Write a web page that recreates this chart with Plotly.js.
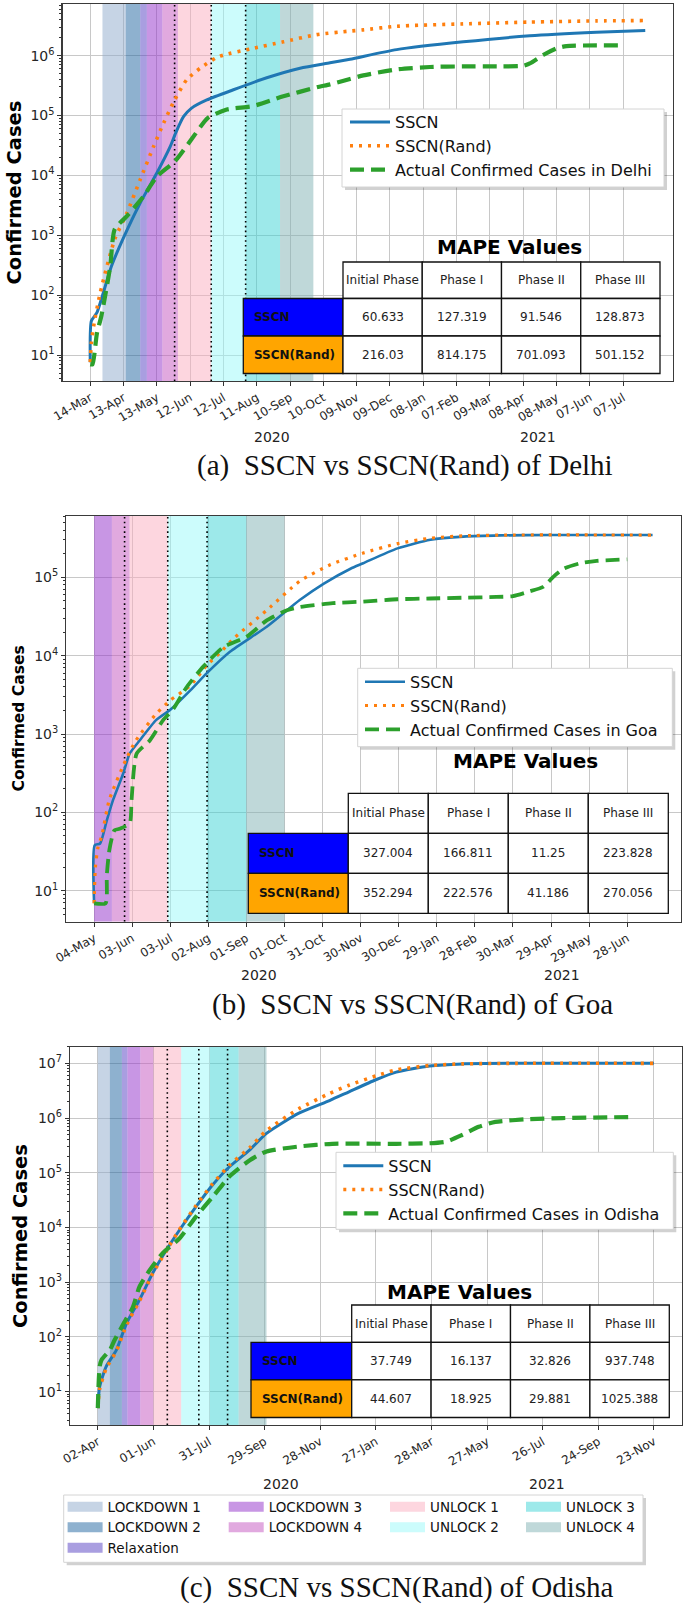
<!DOCTYPE html>
<html><head><meta charset="utf-8">
<script src="https://cdn.plot.ly/plotly-3.0.1.min.js"></script>
<style>html,body{margin:0;padding:0;background:#fff;}#chart{width:685px;height:1606px;}</style>
</head><body><div id="chart"></div>
<script>
// ---------------- DATA ----------------
const delhiStart = '2020-03-14';
const delhiSpanDays = 500;
const delhiSSCNDays = [0,1,6,19,30,45,60,72,77,84,91,105,129,159,189,216,234,276,336,396,456,500];
const delhiSSCN = [7.6,37,51,302,912,3467,10965,30200,51286,95500,131800,182000,269000,426600,616600,758600,871000,1260000,1700000,2140000,2450000,2630000];
const delhiRandDays = [0,1,3,9,22,33,45,57,66,76,87,99,114,120,144,174,204,234,246,276,336,396,456,500];
const delhiRand = [7.6,16,30,110,851,2344,8511,30200,74130,182000,398100,616600,933000,1023000,1290000,1700000,2240000,2570000,2690000,3090000,3390000,3630000,3800000,3850000];
const delhiActualDays = [0,2,6,10,18,22,33,48,60,77,93,106,123,147,174,204,216,234,246,276,306,336,369,390,396,408,420,429,478];
const delhiActual = [7,7,23,45,302,1259,2089,4467,9550,17780,44670,91200,125900,144500,208900,295100,331100,407400,467700,588800,645700,660700,660700,676100,741300,1023000,1318000,1445000,1479000];
const delhiTickLabels = ['14-Mar','13-Apr','13-May','12-Jun','12-Jul','11-Aug','10-Sep','10-Oct','09-Nov','09-Dec','08-Jan','07-Feb','09-Mar','08-Apr','08-May','07-Jun','07-Jul'];
const delhiTickStep = 30;
const delhiPhaseLines = ['2020-05-29','2020-07-01','2020-08-01'];
const delhiMapeSSCN = [60.633, 127.319, 91.546, 128.873];
const delhiMapeRand = [216.03, 814.175, 701.093, 501.152];

const goaStart = '2020-05-04';
const goaSpanDays = 440;
const goaSSCNDays = [0,0.5,4.7,10,15,23,28,36,49,60,76,89,107,136,162,181,202,212,239,265,291,320,360,440];
const goaSSCN = [6.9,38,40,79,145,316,562,832,1514,2042,3631,6026,11220,23440,51290,83180,128800,151400,234400,302000,331100,342800,346700,346700];
const goaRandDays = [0,1,3,6,12,25,33,49,60,76,89,100,110,136,162,186,212,239,265,291,330,440];
const goaRand = [6.9,20,35.5,50,145,468,832,1820,2692,4169,7586,11220,16600,38020,89130,144500,204200,269200,316200,338800,346700,346700];
const goaActualDays = [0,9,10,12,16,20,28,29.5,33.5,44,54.5,62,73,86,102,120,136,152,162,188,212,239,265,291,317,330,343,354,362,370,383,396,420];
const goaActual = [6.9,6.9,15.8,33.1,58.9,61.7,72.4,144.5,562,832,1514,2042,3981,7244,12880,17380,28180,38020,41690,46770,48980,52480,53700,54950,56230,57540,66070,75860,102300,128800,151400,162200,169800];
const goaTickLabels = ['04-May','03-Jun','03-Jul','02-Aug','01-Sep','01-Oct','31-Oct','30-Nov','30-Dec','29-Jan','28-Feb','30-Mar','29-Apr','29-May','28-Jun'];
const goaTickStep = 30;
const goaPhaseLines = ['2020-05-28','2020-07-01','2020-08-01'];
const goaMapeSSCN = [327.004, 166.811, 11.25, 223.828];
const goaMapeRand = [352.294, 222.576, 41.186, 270.056];

const odishaStart = '2020-04-02';
const odishaSpanDays = 600;
const odishaSSCNDays = [0,2,9,20,31,45,59,74,88,106,124,142,164,182,217,250,271,300,322,358,393,450,600];
const odishaSSCN = [5,12.3,28.8,57.5,178,479,1445,3890,8913,23990,60260,128800,263000,524800,1230000,2090000,3020000,5010000,6920000,8910000,9770000,10000000,10000000];
const odishaRandDays = [0,2,9,20,31,45,59,74,88,106,124,142,164,182,217,250,271,300,322,358,393,450,600];
const odishaRand = [5,11.2,26.3,55,166,457,1413,3802,9120,25120,63100,138000,288400,588800,1479000,2818000,3981000,5888000,7586000,9120000,9770000,10000000,10000000];
const odishaActualDays = [0,2,4,13,18,27,38,45,56,70,88,106,124,142,164,182,217,253,322,358,376,393,411,429,465,501,577];
const odishaActual = [5,28.8,38,57.5,87,166,355,832,1660,3388,6310,15850,36310,85110,169800,245500,302000,338800,338800,346700,371500,489800,691800,851100,955000,1000000,1047000];
const odishaTickLabels = ['02-Apr','01-Jun','31-Jul','29-Sep','28-Nov','27-Jan','28-Mar','27-May','26-Jul','24-Sep','23-Nov'];
const odishaTickStep = 60;
const odishaPhaseLines = ['2020-06-16','2020-07-20','2020-08-20'];
const odishaMapeSSCN = [37.749, 16.137, 32.826, 937.748];
const odishaMapeRand = [44.607, 18.925, 29.881, 1025.388];

const phaseNames = ['LOCKDOWN 1','LOCKDOWN 2','Relaxation','LOCKDOWN 3','LOCKDOWN 4','UNLOCK 1','UNLOCK 2','UNLOCK 3','UNLOCK 4'];
const phaseStarts = ['2020-03-25','2020-04-15','2020-04-28','2020-05-04','2020-05-18','2020-06-01','2020-07-01','2020-08-01','2020-09-01'];
const phaseEnds = ['2020-04-15','2020-04-28','2020-05-04','2020-05-18','2020-06-01','2020-07-01','2020-08-01','2020-09-01','2020-10-01'];
const phaseColors = ['rgba(141,169,203,0.5)','rgba(29,99,159,0.5)','rgba(83,61,193,0.5)','rgba(145,45,201,0.5)','rgba(195,83,191,0.5)','rgba(251,173,191,0.5)','rgba(153,249,249,0.5)','rgba(59,211,213,0.5)','rgba(127,177,179,0.5)'];
const phaseLegendColumn = ['legend4','legend4','legend4','legend5','legend5','legend6','legend6','legend7','legend7'];

const tableHeader = ['Initial Phase','Phase I','Phase II','Phase III'];
const tableRowLabels = ['SSCN','SSCN(Rand)'];
const tableRowColors = ['#0000ff','#ffa500'];
const yTickVals = [10,100,1000,10000,100000,1000000,10000000];
const yTickText = ['10<sup>1</sup>','10<sup>2</sup>','10<sup>3</sup>','10<sup>4</sup>','10<sup>5</sup>','10<sup>6</sup>','10<sup>7</sup>'];

// ---------------- LAYOUT GEOMETRY (pixels) ----------------
const W = 685, H = 1606;
const px = v => v / W;
const py = v => 1 - v / H;
const DAY = 86400000;
function addDays(s, d) {
  const t = Date.parse(s + 'T00:00:00Z') + d * DAY;
  return new Date(t).toISOString().slice(0, 19).replace('T', ' ');
}
const FONT = 'DejaVu Sans';

const panels = [
  {key:'', start:delhiStart, span:delhiSpanDays, box:[62.5,4,673,381], yr:[0.567,6.862],
   sscnD:delhiSSCNDays, sscn:delhiSSCN, randD:delhiRandDays, rand:delhiRand, actD:delhiActualDays, act:delhiActual,
   ticks:delhiTickLabels, step:delhiTickStep, lines:delhiPhaseLines, region:'Delhi', legend:'legend', lw:3,
   mS:delhiMapeSSCN, mR:delhiMapeRand},
  {key:'2', start:goaStart, span:goaSpanDays, box:[66.2,516,680.5,921.7], yr:[0.604,5.783],
   sscnD:goaSSCNDays, sscn:goaSSCN, randD:goaRandDays, rand:goaRand, actD:goaActualDays, act:goaActual,
   ticks:goaTickLabels, step:goaTickStep, lines:goaPhaseLines, region:'Goa', legend:'legend2', lw:2.6,
   mS:goaMapeSSCN, mR:goaMapeRand},
  {key:'3', start:odishaStart, span:odishaSpanDays, box:[70,1046.7,681.7,1425], yr:[0.391,7.304],
   sscnD:odishaSSCNDays, sscn:odishaSSCN, randD:odishaRandDays, rand:odishaRand, actD:odishaActualDays, act:odishaActual,
   ticks:odishaTickLabels, step:odishaTickStep, lines:odishaPhaseLines, region:'Odisha', legend:'legend3', lw:3,
   mS:odishaMapeSSCN, mR:odishaMapeRand}
];

const traces = [];
const layout = {
  width: W, height: H, autosize: false,
  margin: {l:0, r:0, t:0, b:0, pad:0},
  paper_bgcolor: '#fff', plot_bgcolor: '#fff',
  showlegend: true,
  font: {family: FONT, color: '#222'},
  annotations: [], shapes: []
};

panels.forEach((p, i) => {
  const xa = 'x' + p.key, ya = 'y' + p.key;
  const ylo = Math.pow(10, p.yr[0]), yhi = Math.pow(10, p.yr[1]);
  // phase bands
  phaseNames.forEach((nm, k) => {
    const s = phaseStarts[k] > p.start ? phaseStarts[k] : p.start;
    const e = phaseEnds[k];
    if (e <= s) return;
    traces.push({type:'scatter', mode:'lines', x:[s,e,e,s,s], y:[ylo,ylo,yhi,yhi,ylo],
      fill:'toself', fillcolor:phaseColors[k], line:{width:0, color:phaseColors[k]},
      xaxis:xa, yaxis:ya, name:nm, hoverinfo:'skip', showlegend:false});
  });
  // phase dotted lines
  p.lines.forEach(d => {
    traces.push({type:'scatter', mode:'lines', x:[d,d], y:[ylo,yhi], xaxis:xa, yaxis:ya,
      line:{color:'#000', width:1.6, dash:'1.6px,3.2px'}, showlegend:false, hoverinfo:'skip'});
  });
  const toDates = arr => arr.map(d => addDays(p.start, d));
  traces.push({type:'scatter', mode:'lines', name:'SSCN', x:toDates(p.sscnD), y:p.sscn,
    xaxis:xa, yaxis:ya, legend:p.legend, line:{color:'#1f77b4', width:p.lw, shape:'spline', smoothing:0.6}});
  traces.push({type:'scatter', mode:'lines', name:'SSCN(Rand)', x:toDates(p.randD), y:p.rand,
    xaxis:xa, yaxis:ya, legend:p.legend, line:{color:'#ff7f0e', width:p.lw+0.6, dash:'3px,6px', shape:'spline', smoothing:0.6}});
  traces.push({type:'scatter', mode:'lines', name:'Actual Confirmed Cases in ' + p.region, x:toDates(p.actD), y:p.act,
    xaxis:xa, yaxis:ya, legend:p.legend, line:{color:'#2ca02c', width:p.lw+1.2, dash:'14px,7px', shape:'spline', smoothing:0.6}});

  const b = p.box;
  const minor = [];
  for (let e = 0; e < 8; e++) for (let m = 2; m < 10; m++) minor.push(m * Math.pow(10, e));
  layout['xaxis' + p.key] = {
    type:'date', domain:[px(b[0]), px(b[2])], anchor:ya,
    range:[addDays(p.start, -0.05 * p.span), addDays(p.start, 1.05 * p.span)],
    tickmode:'array', tickvals:p.ticks.map((_, j) => addDays(p.start, j * p.step)), ticktext:p.ticks,
    tickangle:-30, tickfont:{family:FONT, size:12, color:'#262626'},
    ticks:'outside', ticklen:4, tickcolor:'#333', tickwidth:1,
    showgrid:true, gridcolor:'#c8c8c8', gridwidth:1,
    showline:true, mirror:true, linecolor:'#3a3a3a', linewidth:1.2, zeroline:false, fixedrange:true
  };
  layout['yaxis' + p.key] = {
    type:'log', domain:[py(b[3]), py(b[1])], anchor:xa, range:p.yr,
    tickmode:'array', tickvals:yTickVals, ticktext:yTickText,
    tickfont:{family:FONT, size:14, color:'#262626'},
    ticks:'outside', ticklen:4, tickcolor:'#333', tickwidth:1,
    minor:{tickmode:'array', tickvals:minor, ticks:'outside', ticklen:2.2, tickcolor:'#333', showgrid:false},
    showgrid:true, gridcolor:'#c8c8c8', gridwidth:1,
    showline:true, mirror:true, linecolor:'#3a3a3a', linewidth:1.2, zeroline:false, fixedrange:true
  };
});

// legend-only entries for the phase patches (in the bottom legend)
phaseNames.forEach((nm, k) => {
  traces.push({type:'scatter', mode:'lines', name:nm, x:[odishaStart], y:[1], xaxis:'x3', yaxis:'y3',
    line:{color:phaseColors[k], width:10}, legend:phaseLegendColumn[k], hoverinfo:'skip', showlegend:true});
});

// ---------------- LEGEND BOXES ----------------
const legendBoxes = [[342,109,664,187],[357.7,668.3,672.3,746.7],[336,1152.3,673.3,1229.3],[63.7,1495,643,1562.3]];
legendBoxes.forEach(bx => {
  layout.shapes.push({type:'rect', xref:'paper', yref:'paper', layer:'above',
    x0:px(bx[0]+3), x1:px(bx[2]+3), y0:py(bx[3]+3), y1:py(bx[1]+3),
    fillcolor:'rgba(0,0,0,0.18)', line:{width:0}});
  layout.shapes.push({type:'rect', xref:'paper', yref:'paper', layer:'above',
    x0:px(bx[0]), x1:px(bx[2]), y0:py(bx[3]), y1:py(bx[1]),
    fillcolor:'#fff', line:{width:1, color:'#d4d4d4'}});
});

// ---------------- TABLES (cells as shapes, text as annotations) ----------------
const tableGeom = [
  {lab:243.3, x0:343, x1:660, top:262, hh:36.5, ch:37.5, title:[509,247]},
  {lab:248.3, x0:348.3, x1:668.3, top:793.3, hh:40, ch:40, title:[525,761]},
  {lab:251, x0:351.7, x1:669.3, top:1305, hh:37.3, ch:37.6, title:[460,1291.7]}
];
function cellRect(x0, y0, x1, y1, fill) {
  layout.shapes.push({type:'rect', xref:'paper', yref:'paper', layer:'above',
    x0:px(x0), x1:px(x1), y0:py(y1), y1:py(y0), fillcolor:fill, line:{color:'#111', width:1.3}});
}
function cellText(x, y, t, anchor, size, color) {
  layout.annotations.push({xref:'paper', yref:'paper', x:px(x), y:py(y), text:t, showarrow:false,
    xanchor:anchor, yanchor:'middle', font:{family:FONT, size:size, color:color}});
}
panels.forEach((p, i) => {
  const g = tableGeom[i];
  const dw = (g.x1 - g.x0) / 4;
  const rowY = [g.top + g.hh, g.top + g.hh + g.ch, g.top + g.hh + 2 * g.ch];
  tableHeader.forEach((h, c) => {
    cellRect(g.x0 + c * dw, g.top, g.x0 + (c + 1) * dw, rowY[0], '#fff');
    cellText(g.x0 + (c + 0.5) * dw, (g.top + rowY[0]) / 2, h, 'center', 12, '#222');
  });
  [p.mS, p.mR].forEach((vals, r) => {
    const y0 = rowY[r], y1 = rowY[r + 1];
    cellRect(g.lab, y0, g.x0, y1, tableRowColors[r]);
    cellText(g.lab + 9, (y0 + y1) / 2, '<b>' + tableRowLabels[r] + '</b>', 'left', 12, '#111');
    vals.forEach((v, c) => {
      cellRect(g.x0 + c * dw, y0, g.x0 + (c + 1) * dw, y1, '#fff');
      cellText(g.x0 + (c + 0.5) * dw, (y0 + y1) / 2, String(v), 'center', 12, '#222');
    });
  });
  layout.annotations.push({xref:'paper', yref:'paper', x:px(g.title[0]), y:py(g.title[1]),
    text:'<b>MAPE Values</b>', showarrow:false, xanchor:'center', yanchor:'middle',
    font:{family:FONT, size:20, color:'#000'}});
});

// ---------------- TEXT ----------------
const yTitles = [[14,192.5,19.5],[18.5,719,15.5],[20,1236,19.5]];
yTitles.forEach(t => layout.annotations.push({xref:'paper', yref:'paper', x:px(t[0]), y:py(t[1]),
  text:'<b>Confirmed Cases</b>', textangle:-90, showarrow:false, xanchor:'center', yanchor:'middle',
  font:{family:FONT, size:t[2], color:'#000'}}));

const yearLabels = [['2020',272,436.7],['2021',538,436.7],['2020',259,975],['2021',562,975],['2020',281,1484.3],['2021',546.6,1484.3]];
yearLabels.forEach(t => layout.annotations.push({xref:'paper', yref:'paper', x:px(t[1]), y:py(t[2]),
  text:t[0], showarrow:false, xanchor:'center', yanchor:'middle', font:{family:FONT, size:14, color:'#222'}}));

const captions = [['(a)  SSCN vs SSCN(Rand) of Delhi',405,465],['(b)  SSCN vs SSCN(Rand) of Goa',412,1005],['(c)  SSCN vs SSCN(Rand) of Odisha',397,1587]];
captions.forEach(t => layout.annotations.push({xref:'paper', yref:'paper', x:px(t[1]), y:py(t[2]),
  text:t[0], showarrow:false, xanchor:'center', yanchor:'middle', font:{family:'Liberation Serif', size:29, color:'#111'}}));

// ---------------- LEGENDS ----------------
function legendAt(x, y, size, iw) {
  return {x:px(x), y:py(y), xanchor:'left', yanchor:'top', bgcolor:'rgba(0,0,0,0)', borderwidth:0,
    font:{family:FONT, size:size, color:'#111'}, traceorder:'normal', tracegroupgap:0, itemwidth:iw};
}
layout.legend = legendAt(345, 105.1, 16, 40);
layout.legend2 = legendAt(360, 664.8, 16, 40);
layout.legend3 = legendAt(338.3, 1148.8, 16, 40);
layout.legend4 = legendAt(62.6, 1491.4, 13.5, 35);
layout.legend5 = legendAt(223.7, 1491.4, 13.5, 35);
layout.legend6 = legendAt(385, 1491.4, 13.5, 35);
layout.legend7 = legendAt(521, 1491.4, 13.5, 35);

Plotly.newPlot('chart', traces, layout, {staticPlot:true, displayModeBar:false});
</script></body></html>
